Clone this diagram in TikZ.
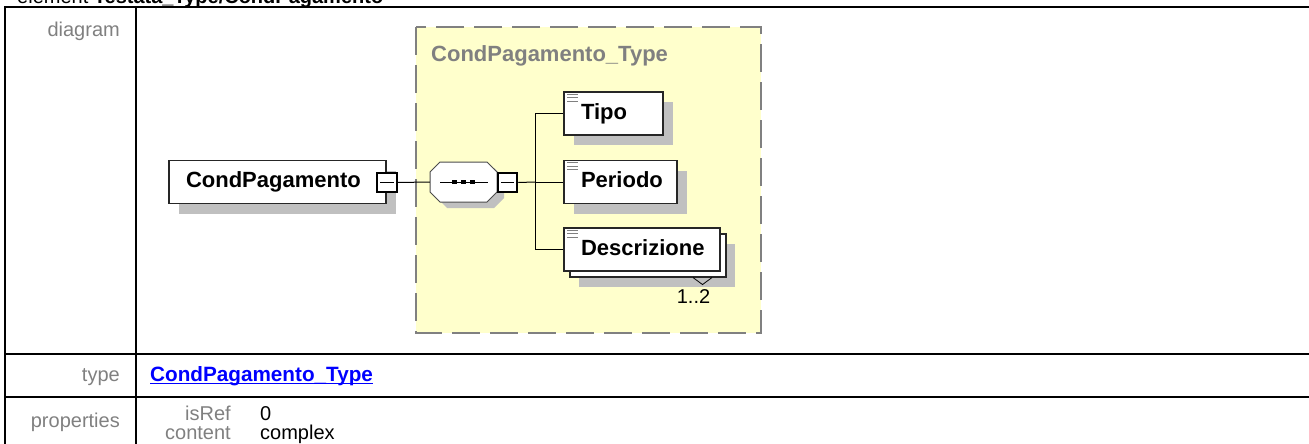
\documentclass[tikz,border=0pt]{standalone}
\usepackage{fontspec}
\setmainfont{Liberation Sans}
\usetikzlibrary{positioning,shadows}

\definecolor{labelgray}{HTML}{808080}
\definecolor{typeyellow}{HTML}{FFFFCC}
\definecolor{shadowgray}{HTML}{C0C0C0}
\definecolor{linkblue}{HTML}{0000FF}

\newcommand{\lblfont}{\fontsize{20}{23}\selectfont}
\newcommand{\elfont}{\fontsize{22}{26}\selectfont\bfseries}

\tikzset{
  tableline/.style={line width=2pt},
  rowlabel/.style={anchor=base east, text=labelgray, font=\lblfont},
  rowvalue/.style={anchor=base west, font=\lblfont},
  elbox/.style={draw=black!85, fill=white, line width=1.1pt, inner xsep=17pt,
    text width=#1, align=left, minimum height=43pt, font=\elfont,
    text height=15.5pt, text depth=4pt},
  elshadow/.style={drop shadow={shadow xshift=10pt, shadow yshift=-10pt, fill=shadowgray, opacity=1}},
  minusbox/.style={draw, fill=white, line width=2pt, minimum size=19.5pt,
    drop shadow={shadow xshift=1pt, shadow yshift=-1pt, fill=black, opacity=1},
    path picture={\draw[line width=0.8pt] ([xshift=3pt]path picture bounding box.west) -- ([xshift=-3pt]path picture bounding box.east);}},
  wire/.style={line width=1pt},
}

\begin{document}
\begin{tikzpicture}[x=1pt, y=-1pt, every node/.style={inner sep=0pt}]
\useasboundingbox (0,0) rectangle (1309,444);
% header, cut off by the top edge
\node[anchor=base west, font=\lblfont] (header) at (17,4) {element \textbf{Testata\_Type/CondPagamento}};

% table rules
\draw[tableline] (5,444) -- (5,7.5) -- (1309,7.5);
\draw[tableline] (136,7.5) -- (136,444);
\draw[tableline] (5,354) -- (1309,354);
\draw[tableline] (5,397) -- (1309,397);

\node[rowlabel] (diaglbl) at (120,37) {diagram};
\node[rowlabel] (typelbl) at (120,381) {type};
\node[rowlabel] (proplbl) at (120,427) {properties};
\node[rowvalue, text=linkblue, font=\fontsize{20.7}{24}\selectfont\bfseries] (typelink) at (150,381) {CondPagamento\_Type};
\draw[linkblue, line width=1.5pt] ([yshift=-2.5pt]typelink.base west) -- ([yshift=-2.5pt]typelink.base east);
\node[rowlabel] (isreflbl) at (231,420) {isRef};
\node[rowvalue] (isrefval) at (260,420) {0};
\node[rowlabel] (contentlbl) at (231,439) {content};
\node[rowvalue] (contentval) at (260,439) {complex};

% complex type area
\draw[labelgray, fill=typeyellow, line width=1.2pt, dash pattern=on 28pt off 10pt] (416,27) rectangle (761,333);
\node[anchor=base west, text=labelgray, font=\elfont] (typetitle) at (431,62) {CondPagamento\_Type};

% element and sequence
\node[elbox=183pt, elshadow] (cond) at (277.5,182) {CondPagamento};
\node[minusbox] (condminus) at (387,182.5) {};
\fill[shadowgray, shift={(7,6)}] (440,162) -- (487,162) -- (497,172) -- (497,192) -- (487,202) -- (440,202) -- (430,192) -- (430,172) -- cycle;
\draw[black!70, fill=white, line width=1pt] (440,162) -- (487,162) -- (497,172) -- (497,192) -- (487,202) -- (440,202) -- (430,192) -- (430,172) -- cycle;
\node[minimum width=67pt, minimum height=40pt] (seq) at (463.5,182) {};
\draw[wire] ([xshift=-23.5pt]seq.center) -- ([xshift=24.5pt]seq.center);
\foreach \dx in {-9,0,9}
  \fill ([xshift=\dx pt]seq.center) +(-2.5,-2) rectangle +(2.5,2);
\node[minusbox] (seqminus) at (507.5,182.5) {};
\coordinate (fork) at (535,182);

% children
\node[elbox=65pt, elshadow] (tipo) at (613.5,113.5) {Tipo};
\node[elbox=79pt, elshadow] (periodo) at (620.5,182) {Periodo};
\node[elbox=122pt, drop shadow={shadow xshift=9pt, shadow yshift=-10pt, fill=shadowgray, opacity=1}] (descrback) at (648,255.5) {};
\node[elbox=122pt] (descr) at (642,249.5) {Descrizione};
\draw[line width=0.8pt] ([xshift=45pt]descrback.south) -- ++(9.5,7) -- ++(9.5,-7);
\node[anchor=base, font=\lblfont] (occurs) at (693.5,303) {1..2};

\foreach \el in {tipo,periodo,descr}
  \foreach \dy in {3,6.5,10}
    \draw[labelgray, line width=1pt] ([xshift=4pt, yshift=-\dy pt]\el.north west) -- ++(11,0);

% connectors
\draw[wire] (condminus.east) -- (seq.west);
\draw[wire] (seqminus.east) -- (fork);
\draw[wire] (fork) |- (tipo.west);
\draw[wire] (fork) -- (periodo.west);
\draw[wire] (fork) |- (descr.west);
\end{tikzpicture}
\end{document}
